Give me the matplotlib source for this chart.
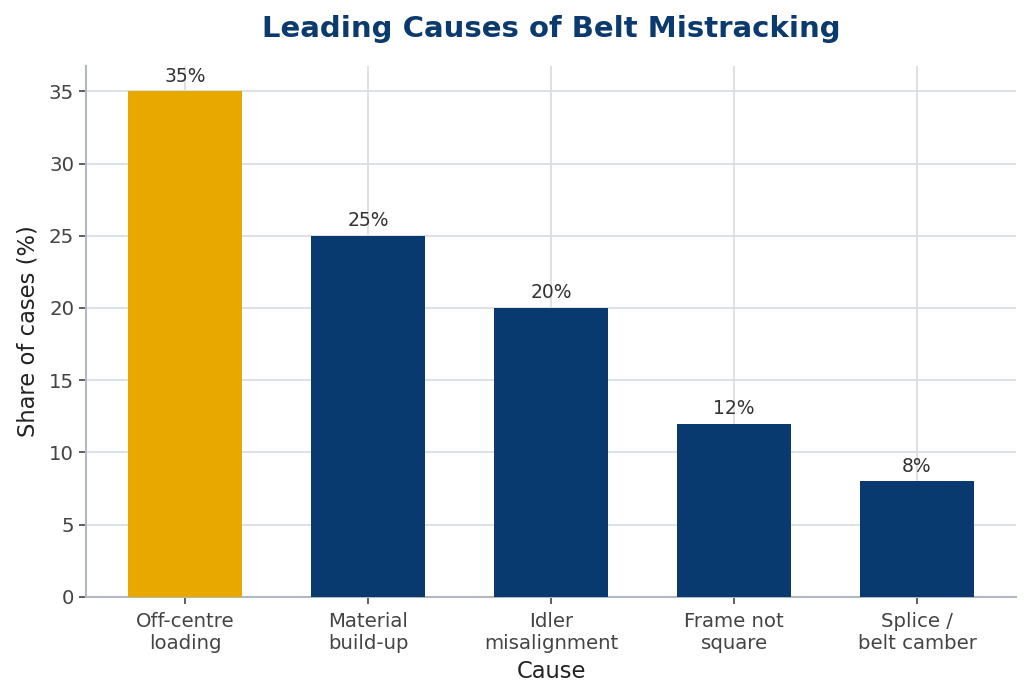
import matplotlib
matplotlib.use("Agg")
import matplotlib.pyplot as plt
import numpy as np

causes = ["Off-centre\nloading", "Material\nbuild-up", "Idler\nmisalignment",
          "Frame not\nsquare", "Splice /\nbelt camber"]
shares = [35, 25, 20, 12, 8]

navy = "#08396f"
gold = "#e8a800"
colors = [gold] + [navy] * (len(shares) - 1)

fig, ax = plt.subplots(figsize=(10.31, 6.99), dpi=100)
fig.subplots_adjust(left=0.0834, right=0.9855, bottom=0.146, top=0.9056)

x = np.arange(len(causes))
bars = ax.bar(x, shares, 0.62, color=colors, zorder=3)

for rect, v in zip(bars, shares):
	ax.annotate("{}%".format(v), (rect.get_x() + rect.get_width() / 2, v),
				xytext=(0, 4), textcoords="offset points",
				ha="center", va="bottom", fontsize=13.5, color="#333333")

ax.set_xticks(x)
ax.set_xticklabels(causes)
ax.set_yticks(np.arange(0, 36, 5))
ax.tick_params(axis="both", labelsize=14.2, colors="#444444", length=5, width=1.2)
ax.tick_params(axis="x", pad=6)

ax.set_title("Leading Causes of Belt Mistracking", fontsize=21, fontweight="bold",
			 color="#0b3a6e", pad=21)
ax.set_xlabel("Cause", fontsize=16.3, color="#222222", labelpad=5)
ax.set_ylabel("Share of cases (%)", fontsize=16.3, color="#222222", labelpad=7)

ax.grid(True, color="#dde1e6", linewidth=1.4, zorder=0)
ax.set_axisbelow(True)
for side in ["top", "right"]:
	ax.spines[side].set_visible(False)
for side in ["left", "bottom"]:
	ax.spines[side].set_color("#b0b8c1")
	ax.spines[side].set_linewidth(1.5)

plt.savefig("out.png", dpi=100)
